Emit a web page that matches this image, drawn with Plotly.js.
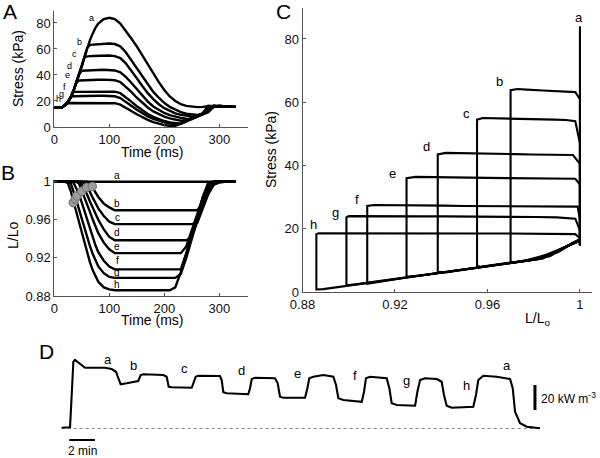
<!DOCTYPE html>
<html><head><meta charset="utf-8">
<script src="https://cdn.plot.ly/plotly-3.0.1.min.js"></script>
<style>html,body{margin:0;padding:0;background:#fff}#chart{width:600px;height:458px}</style>
</head><body><div id="chart"></div>
<script>
// ---- Data (time in ms) ----
const time = [0,10,15,20,25,30,35,40,45,50,55,60,65,70,75,80,90,100,110,120,130,140,150,160,170,180,190,200,210,220,230,240,250,260,270,280,290,300,310,320,330];

// Stress (kPa) per afterload a..h
const stressA = [14.8,14.8,15.5,17,19.5,23,28,34,40.5,47,54,61,67,72,76.5,79.5,83,84,83,79.5,74,68,62,55,48,41,34.5,28.5,23.5,20,17.5,16.2,15.5,15.3,15.5,16,15.8,16,15.5,15.5,15.5];
const stressB = [14.8,14.8,15.5,17,19.5,23,28,34,40.5,47,54,61,63.2,63.3,63.5,63.7,64,64.2,63.8,62,57.5,51.5,45,38.5,32.5,27,22.5,18.5,15.5,13.2,11.5,10.2,9.5,9.2,10,12.5,15.6,16.3,15.8,15.5,15.5];
const stressC = [14.8,14.8,15.5,17,19.5,23,28,34,40.5,47,54,54.4,54.5,54.6,54.7,54.8,55,55,54.5,53,49,43.5,37.5,31.5,26,21.5,17.5,14.5,12.2,10.5,9.3,8.6,8.2,8,9.5,11.3,15.6,16.3,15.8,15.5,15.5];
const stressD = [14.8,14.8,15.5,17,19.5,23,28,34,40.5,43.3,43.3,43.4,43.5,43.6,43.7,43.8,44,44,43.5,42,38.5,34,29,24,19.5,15.8,13,10.8,9.2,8,7,6.4,6.2,8,9.9,12.8,16.3,16,15.6,15.5,15.5];
const stressE = [14.8,14.8,15.5,17,19.5,23,28,34,35.8,35.8,35.9,36,36,36.1,36.2,36.3,36.4,36.4,36,34.5,31,27,22.5,18.5,15,12,9.8,8,6.6,5.5,4.8,5.3,7,8.7,10.5,14.6,16.2,15.8,15.6,15.5,15.5];
const stressF = [14.8,14.8,15.5,17,19.5,23,27,27,27,27.1,27.1,27.2,27.2,27.3,27.3,27.4,27.5,27.5,27.2,26,23,19.5,16,12.8,10,7.8,6,4.6,3.6,2.9,2.6,4.6,6.7,8.6,10.5,15.1,16.3,15.8,15.5,15.5,15.5];
const stressG = [14.8,14.8,15.5,17,19.5,23.2,23.6,23.7,23.8,23.8,23.8,23.9,23.9,23.9,24,24,24,24,23.6,22.3,19.5,16.3,13.2,10.5,8.2,6.3,4.8,3.6,2.7,2.1,2.4,4.1,6.1,8.2,10.2,14.6,16.2,15.8,15.5,15.5,15.5];
const stressH = [14.8,14.8,15.5,17,18.3,18.4,18.4,18.5,18.5,18.5,18.5,18.5,18.6,18.6,18.6,18.6,18.6,18.6,18.3,17.2,15,12.3,9.8,7.5,5.5,3.8,2.5,1.5,0.8,0.9,2.6,4.5,6.4,8.3,10.6,16.3,15.8,15.6,15.5,15.5,15.5];

// Relative muscle length L/Lo per afterload a..h
const lengthA = [1,1,1,1,1,1,1,1,1,1,1,1,1,1,1,1,1,1,1,1,1,1,1,1,1,1,1,1,1,1,1,1,1,1,1,1,1,1,1,1,1];
const lengthB = [1,1,1,1,1,1,1,1,1,1,1,1,0.998,0.993,0.988,0.984,0.977,0.973,0.970,0.970,0.970,0.970,0.970,0.970,0.970,0.970,0.970,0.970,0.970,0.970,0.970,0.970,0.970,0.970,0.978,0.99,0.997,0.999,1,1,1];
const lengthC = [1,1,1,1,1,1,1,1,1,1,0.998,0.994,0.989,0.983,0.978,0.972,0.964,0.958,0.9555,0.9555,0.9555,0.9555,0.9555,0.9555,0.9555,0.9555,0.9555,0.9555,0.9555,0.9555,0.9555,0.9555,0.9555,0.957,0.972,0.987,0.997,1,1,1,1];
const lengthD = [1,1,1,1,1,1,1,1,1,0.997,0.992,0.986,0.979,0.972,0.966,0.96,0.95,0.942,0.9385,0.9385,0.9385,0.9385,0.9385,0.9385,0.9385,0.9385,0.9385,0.9385,0.9385,0.9385,0.9385,0.9385,0.942,0.958,0.976,0.991,0.999,1,1,1,1];
const lengthE = [1,1,1,1,1,1,1,1,0.998,0.991,0.984,0.976,0.968,0.96,0.952,0.946,0.936,0.929,0.925,0.925,0.925,0.925,0.925,0.925,0.925,0.925,0.925,0.925,0.925,0.925,0.925,0.932,0.948,0.966,0.983,0.995,1,1,1,1,1];
const lengthF = [1,1,1,1,1,1,0.999,0.993,0.987,0.978,0.969,0.959,0.95,0.941,0.933,0.926,0.917,0.911,0.908,0.908,0.908,0.908,0.908,0.908,0.908,0.908,0.908,0.908,0.908,0.908,0.908,0.925,0.945,0.965,0.983,0.996,1,1,1,1,1];
const lengthG = [1,1,1,1,1,0.998,0.99,0.981,0.971,0.961,0.951,0.941,0.932,0.924,0.917,0.911,0.904,0.9,0.899,0.899,0.899,0.899,0.899,0.899,0.899,0.899,0.899,0.899,0.899,0.899,0.903,0.92,0.94,0.96,0.98,0.995,1,1,1,1,1];
const lengthH = [1,1,1,1,0.998,0.99,0.979,0.968,0.957,0.946,0.935,0.925,0.915,0.907,0.9,0.895,0.889,0.887,0.886,0.886,0.886,0.886,0.886,0.886,0.886,0.886,0.886,0.886,0.886,0.889,0.905,0.924,0.943,0.962,0.984,0.999,1,1,1,1,1];

const curveNames = ['a','b','c','d','e','f','g','h'];

// Grey markers on panel B (time ms, L/Lo)
const markerTime = [34.5,38,41,50,59,69];
const markerLength = [0.978,0.982,0.985,0.990,0.994,0.995];

// Panel D: heat rate trace (time in min, kW m^-3)
const heatTime = [0.13,0.78,0.91,1.04,1.17,1.56,1.95,2.59,3.50,4.02,4.36,4.54,4.72,5.19,5.84,6.09,6.28,6.48,8.04,8.30,8.46,8.69,10.25,10.40,10.56,10.76,12.45,12.58,12.71,12.97,14.65,14.79,14.92,15.18,16.73,16.94,17.12,17.38,19.07,19.25,19.40,19.71,20.49,21.27,21.48,21.66,22.05,23.48,23.66,23.81,24.12,25.42,25.63,25.81,26.20,27.63,27.81,28.02,28.40,29.32,29.70,29.88,30.09,30.48,32.16,32.37,32.55,32.94,33.98,35.02,35.23,35.41,35.80,36.32,37.35];
const heatRate = [0.6,1.0,26.8,53.4,54.8,51.4,48.6,48.6,48.6,47.6,45.4,40.2,35.4,36.2,37.4,38,42.8,43.4,42.8,41.4,33.4,33,32.6,37.4,41.4,42.2,42,38.8,29,28.2,27.4,32.2,39.6,40.6,40.2,36.2,25.4,24.6,24.6,32.2,40.2,41.4,42.8,41.4,34.8,24.2,22.8,21.4,29.4,40.2,41.4,40.2,32.2,20.2,18.8,18.2,29.4,38.8,40.2,39.6,37.4,26.8,18.2,16.6,17.4,26.8,38.8,42.2,41.4,39.6,32.2,13.4,4.2,1.4,0.2];
const heatLabels = ['a','b','c','d','e','f','g','h','a'];
const heatLabelTime = [3.76,5.70,9.67,14.09,18.47,22.96,26.98,31.6,34.81];
const heatLabelValue = [55.6,50.8,48.2,46.8,44.2,42.2,38.8,34.2,50.8];

// Scale bars for panel D
const scaleMinutes = 2;      // horizontal bar length (min)
const scalePower = 20;       // vertical bar length (kW m^-3)

// Label positions for curve letters
const labelA_t = [68,46.7,37.6,28.5,24.4,18.2,13.5,8.5];
const labelA_s = [83.6,65.2,56.2,47.1,40,30.5,25.2,21.5];
const labelB_t = [114.5,114.5,114.5,114.5,114.5,114.5,114.5,114.5];
const labelB_L = [1.007,0.977,0.962,0.9464,0.9325,0.917,0.905,0.8925];
const labelC_L = [0.9996,0.9654,0.9508,0.9337,0.9189,0.9036,0.8941,0.8847];
const labelC_s = [86.9,66.5,56.5,46,37.6,29.1,25.2,21.5];

// ---- Drawing ----
const W = 600, H = 458;
const fx = p => p / W, fy = p => 1 - p / H;
const FONT = 'Liberation Sans, Arial, sans-serif';
const stress = [stressA,stressB,stressC,stressD,stressE,stressF,stressG,stressH];
const lengths = [lengthA,lengthB,lengthC,lengthD,lengthE,lengthF,lengthG,lengthH];

const traces = [];
for (let i = 0; i < 8; i++) {
  traces.push({x: time, y: stress[i], xaxis:'x', yaxis:'y', mode:'lines', line:{color:'#000', width:2.4}, hoverinfo:'skip'});
  traces.push({x: time, y: lengths[i], xaxis:'x2', yaxis:'y2', mode:'lines', line:{color:'#000', width:2.4}, hoverinfo:'skip'});
  traces.push({x: lengths[i], y: stress[i], xaxis:'x3', yaxis:'y3', mode:'lines', line:{color:'#000', width:2.1}, hoverinfo:'skip'});
}
traces.push({x: markerTime, y: markerLength, xaxis:'x2', yaxis:'y2', mode:'markers',
  marker:{size:8.5, color:'#9c9c9c', line:{color:'#707070', width:1}}});
// Panel D
traces.push({x:[heatTime[0], heatTime[heatTime.length-1]], y:[0,0], xaxis:'x4', yaxis:'y4', mode:'lines', line:{color:'#8a8a8a', width:1, dash:'dot'}});
traces.push({x: heatTime, y: heatRate, xaxis:'x4', yaxis:'y4', mode:'lines', line:{color:'#000', width:2.1}});
const barT0 = 0.72, barY0 = -9.2, barX = 36.96, barV0 = 14.8;
traces.push({x:[barT0, barT0 + scaleMinutes], y:[barY0, barY0], xaxis:'x4', yaxis:'y4', mode:'lines', line:{color:'#000', width:2}});
traces.push({x:[barX, barX], y:[barV0, barV0 + scalePower], xaxis:'x4', yaxis:'y4', mode:'lines', line:{color:'#000', width:3}});

const ann = [];
const addText = (text, x, y, xref, yref, size, extra) => ann.push(Object.assign({text, x, y, xref, yref, showarrow:false,
  xanchor:'center', yanchor:'middle', font:{family:FONT, size, color:'#000'}}, extra||{}));

for (let i = 0; i < 8; i++) {
  addText(curveNames[i], labelA_t[i], labelA_s[i], 'x', 'y', 9);
  addText(curveNames[i], labelC_L[i], labelC_s[i], 'x3', 'y3', 13);
}
// Panel B letters: 'a' sits just above the axis range, so it is placed in paper space
addText(curveNames[0], fx(117.3), fy(175), 'paper', 'paper', 10);
for (let i = 1; i < 8; i++) addText(curveNames[i], labelB_t[i], labelB_L[i], 'x2', 'y2', 10);

for (let i = 0; i < heatLabels.length; i++) addText(heatLabels[i], heatLabelTime[i], heatLabelValue[i], 'x4', 'y4', 13);
addText('2 min', fx(82), fy(451), 'paper', 'paper', 12);
addText('20 kW m<sup>-3</sup>', barX + 0.35, barV0 + scalePower/2, 'x4', 'y4', 12, {xanchor:'left'});

// axis titles and panel letters
addText('Stress (kPa)', fx(18), fy(69), 'paper', 'paper', 14, {textangle:-90});
addText('Time (ms)', fx(152), fy(152), 'paper', 'paper', 14);
addText('L/Lo', fx(13), fy(236), 'paper', 'paper', 14, {textangle:-90});
addText('Time (ms)', fx(152), fy(320), 'paper', 'paper', 14);
addText('Stress (kPa)', fx(271), fy(150), 'paper', 'paper', 14, {textangle:-90});
addText('L/L<sub>o</sub>', fx(537), fy(319), 'paper', 'paper', 14);
addText('A', fx(10), fy(11), 'paper', 'paper', 21);
addText('B', fx(8), fy(172), 'paper', 'paper', 21);
addText('C', fx(283), fy(11), 'paper', 'paper', 21);
addText('D', fx(46), fy(351), 'paper', 'paper', 21);

const axBase = {showline:true, linecolor:'#555', linewidth:1, ticks:'inside', ticklen:3, tickcolor:'#555',
  showgrid:false, zeroline:false, tickfont:{family:FONT, size:13, color:'#111'}, fixedrange:true};

const layout = {
  width: W, height: H, margin:{l:0,r:0,t:0,b:0}, showlegend:false,
  paper_bgcolor:'#fff', plot_bgcolor:'rgba(0,0,0,0)',
  font:{family:FONT},
  xaxis: Object.assign({}, axBase, {domain:[fx(54.3), fx(248)], range:[0, 352.2], anchor:'y', tickvals:[0,100,200,300]}),
  yaxis: Object.assign({}, axBase, {domain:[fy(127), fy(11)], range:[0, 89.2], anchor:'x', tickvals:[0,20,40,60,80]}),
  xaxis2: Object.assign({}, axBase, {domain:[fx(54.3), fx(248)], range:[0, 352.2], anchor:'y2', tickvals:[0,100,200,300]}),
  yaxis2: Object.assign({}, axBase, {domain:[fy(296), fy(180)], range:[0.88, 1.0018], anchor:'x2', tickvals:[0.88,0.92,0.96,1], ticktext:['0.88','0.92','0.96','1']}),
  xaxis3: Object.assign({}, axBase, {domain:[fx(302.5), fx(591.5)], range:[0.88, 1.005], anchor:'y3', tickvals:[0.88,0.92,0.96,1], ticktext:['0.88','0.92','0.96','1']}),
  yaxis3: Object.assign({}, axBase, {domain:[fy(292), fy(8)], range:[0, 89.8], anchor:'x3', tickvals:[0,20,40,60,80]}),
  xaxis4: {domain:[fx(50), fx(550)], range:[-0.778, 38.13], anchor:'y4', visible:false, fixedrange:true},
  yaxis4: {domain:[fy(450), fy(340)], range:[-17.2, 70.8], anchor:'x4', visible:false, fixedrange:true},
  annotations: ann
};

Plotly.newPlot('chart', traces, layout, {staticPlot:true, displayModeBar:false});
</script>
</body></html>
